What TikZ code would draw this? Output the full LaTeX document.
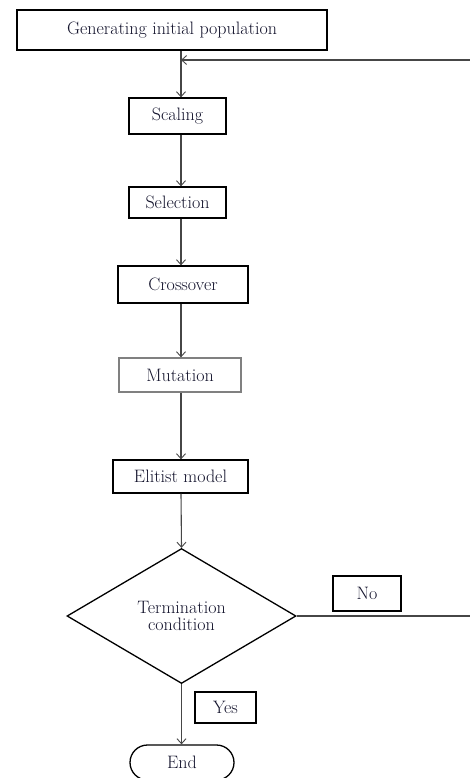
\documentclass[tikz,border=0pt]{standalone}
\usetikzlibrary{arrows.meta,shapes.geometric,shapes.misc}
\definecolor{textc}{RGB}{20,20,45}
\definecolor{linec}{RGB}{70,70,70}
\begin{document}
\begin{tikzpicture}[x=1pt,y=-1pt,
  every node/.style={font=\fontsize{18}{20}\selectfont, text=textc, inner sep=0pt},
  procbox/.style={draw=black, line width=1.3pt, rectangle},
  labbox/.style={draw=black, line width=1.3pt, rectangle},
  conn/.style={draw=linec, line width=1.1pt},
  arr/.style={conn, -{Straight Barb[length=5pt,width=9pt,line width=0.9pt]}}
]
\useasboundingbox (0,0) rectangle (470,778);
\fill[white] (0,0) rectangle (470,778);

\node[procbox, minimum width=310pt, minimum height=40pt] (gen) at (172,30) {Generating initial population};
\node[procbox, minimum width=97pt, minimum height=36pt] (scal) at (177.5,116) {Scaling};
\node[procbox, minimum width=97pt, minimum height=31pt] (sel) at (177.5,202.5) {Selection};
\node[procbox, minimum width=130pt, minimum height=37pt] (cross) at (183,284.5) {Crossover};
\node[procbox, draw=gray, minimum width=122pt, minimum height=34pt] (mut) at (180,375) {Mutation};
\node[procbox, minimum width=135pt, minimum height=33pt] (elit) at (180.5,476.5) {Elitist model};
\node[draw=black, line width=1.3pt, diamond, minimum width=229pt, minimum height=135pt, align=center] (term) at (181.5,616) {Termination\\[-3pt]condition};
\node[labbox, minimum width=68pt, minimum height=35pt] (no) at (367,593.5) {No};
\node[labbox, minimum width=61pt, minimum height=31pt] (yes) at (225.5,707.5) {Yes};
\node[draw=black, line width=1.3pt, rounded rectangle, minimum width=104pt, minimum height=35pt] (end) at (182,762.5) {End};

\coordinate (j) at (181,60);
\coordinate (rb) at (475,616);
\coordinate (rt) at (475,60);

\draw[arr] (gen.south -| j) -- (scal.north -| j);
\draw[arr] (scal.south -| j) -- (sel.north -| j);
\draw[arr] (sel.south -| j) -- (cross.north -| j);
\draw[arr] (cross.south -| j) -- (mut.north -| j);
\draw[arr] (mut.south -| j) -- (elit.north -| j);
\draw[arr] (elit.south -| j) -- (term.north);
\draw[arr] (term.south) -- (end.north -| term.south);
\draw[arr] (term.east) -- (rb) -- (rt) -- (j);
\end{tikzpicture}
\end{document}
